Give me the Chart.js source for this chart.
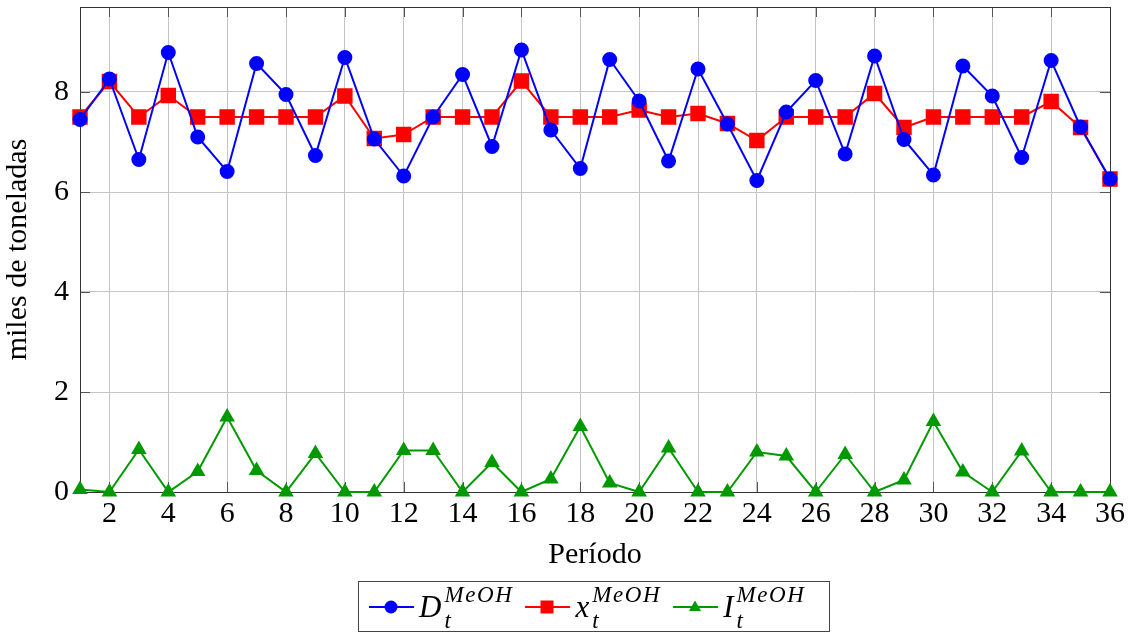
<!DOCTYPE html>
<html>
<head>
<meta charset="utf-8">
<script src="https://cdn.jsdelivr.net/npm/chart.js@4"></script>
<style>
  body { margin: 0; background: #fff; }
  #wrap { position: relative; width: 1134px; height: 633px; }
  #legend {
    position: absolute; left: 358px; top: 581px; width: 460px; height: 49px;
    border: 1px solid #444; display: flex; align-items: center; justify-content: flex-start;
    padding-left: 10px; box-sizing: content-box;
    font-family: "Liberation Serif", serif; font-style: italic; font-size: 31px; color: #000;
  }
  .item { display: flex; align-items: center; margin-right: 12px; }
  .item svg { margin-right: 5px; }
  .sym { display: inline-block; }
  .ss { display: inline-flex; flex-direction: column; font-size: 23px; line-height: 17px; margin-left: 3px; letter-spacing: 1.6px; }
  .ss .sup { position: relative; top: -4px; }
  .ss .sub { position: relative; top: 5px; }
</style>
</head>
<body>
<div id="wrap">
  <canvas id="chart" width="1134" height="633"></canvas>
  <div id="legend"></div>
</div>
<script>
// periods (x axis)
const periods = [1, 2, 3, 4, 5, 6, 7, 8, 9, 10, 11, 12, 13, 14, 15, 16, 17, 18,
  19, 20, 21, 22, 23, 24, 25, 26, 27, 28, 29, 30, 31, 32, 33, 34, 35, 36];

// D_t demand
const demand = [7.45, 8.26, 6.65, 8.79, 7.1, 6.41, 8.57, 7.95, 6.73, 8.69, 7.06, 6.32,
  7.5, 8.35, 6.91, 8.84, 7.24, 6.47, 8.65, 7.82, 6.62, 8.46, 7.36, 6.23,
  7.6, 8.23, 6.76, 8.72, 7.05, 6.34, 8.52, 7.92, 6.69, 8.63, 7.3, 6.26];

// x_t production
const production = [7.5, 8.21, 7.5, 7.93, 7.5, 7.5, 7.5, 7.5, 7.5, 7.92, 7.07, 7.15,
  7.5, 7.5, 7.5, 8.22, 7.5, 7.5, 7.5, 7.64, 7.5, 7.57, 7.37, 7.03,
  7.5, 7.5, 7.5, 7.97, 7.29, 7.5, 7.5, 7.5, 7.5, 7.81, 7.29, 6.26];

// I_t inventory
const inventory = [0.05, 0, 0.85, 0, 0.41, 1.5, 0.43, 0, 0.77, 0, 0, 0.83,
  0.83, 0, 0.59, 0, 0.26, 1.31, 0.18, 0, 0.88, 0, 0, 0.8,
  0.72, 0, 0.75, 0, 0.24, 1.41, 0.4, 0, 0.82, 0, 0, 0];

const xTicks = [2, 4, 6, 8, 10, 12, 14, 16, 18, 20, 22, 24, 26, 28, 30, 32, 34, 36];
const yTicks = [0, 2, 4, 6, 8];
const seriesSymbols = ['D', 'x', 'I'];
const seriesSup = 'MeOH';
const seriesSub = 't';

const FONT = '"Liberation Serif", serif';

function toPoints(vals) {
  return periods.map((p, i) => ({ x: p, y: vals[i] }));
}

// pgfplots style inward tick marks on all four sides
const innerTicks = {
  id: 'innerTicks',
  beforeDatasetsDraw(chart) {
    const { ctx, chartArea: a, scales } = chart;
    const len = 10;
    ctx.save();
    ctx.strokeStyle = '#555';
    ctx.lineWidth = 1;
    ctx.beginPath();
    xTicks.forEach(v => {
      const px = Math.round(scales.x.getPixelForValue(v)) + 0.5;
      ctx.moveTo(px, a.bottom); ctx.lineTo(px, a.bottom - len);
      ctx.moveTo(px, a.top); ctx.lineTo(px, a.top + len);
    });
    yTicks.forEach(v => {
      const py = Math.round(scales.y.getPixelForValue(v)) + 0.5;
      ctx.moveTo(a.left, py); ctx.lineTo(a.left + len, py);
      ctx.moveTo(a.right, py); ctx.lineTo(a.right - len, py);
    });
    ctx.stroke();
    ctx.strokeStyle = '#333';
    ctx.strokeRect(Math.round(a.left) + 0.5, Math.round(a.top) + 0.5,
      Math.round(a.right - a.left), Math.round(a.bottom - a.top));
    ctx.restore();
  }
};

const ctx = document.getElementById('chart').getContext('2d');
const chart = new Chart(ctx, {
  type: 'line',
  data: {
    datasets: [
      {
        label: 'D', data: toPoints(demand), borderColor: '#0000ff', backgroundColor: '#0000ff',
        borderWidth: 2, pointStyle: 'circle', pointRadius: 6.5, clip: false
      },
      {
        label: 'x', data: toPoints(production), borderColor: '#ff0000', backgroundColor: '#ff0000',
        borderWidth: 2, pointStyle: 'rect', pointRadius: 9.5, clip: false
      },
      {
        label: 'I', data: toPoints(inventory), borderColor: '#009900', backgroundColor: '#009900',
        borderWidth: 2, pointStyle: 'triangle', pointRadius: 7, clip: false
      }
    ]
  },
  options: {
    responsive: false,
    animation: false,
    events: [],
    layout: { autoPadding: false, padding: { top: 7, right: 24, left: 0, bottom: 0 } },
    plugins: { legend: { display: false }, tooltip: { enabled: false } },
    scales: {
      x: {
        type: 'linear', min: 1, max: 36,
        afterBuildTicks: s => { s.ticks = xTicks.map(v => ({ value: v })); },
        afterFit: s => { s.height = 141; s.paddingLeft = 0; s.paddingRight = 0; },
        grid: { color: '#c4c4c4', lineWidth: 1, drawTicks: false },
        border: { display: false },
        ticks: { color: '#000', font: { family: FONT, size: 30 }, padding: 4, maxRotation: 0 },
        title: { display: true, text: 'Período', color: '#000', font: { family: FONT, size: 30 },
          padding: { top: 0, bottom: 60 } }
      },
      y: {
        min: 0, max: 9.7,
        afterBuildTicks: s => { s.ticks = yTicks.map(v => ({ value: v })); },
        afterFit: s => { s.width = 80; s.paddingTop = 0; s.paddingBottom = 0; },
        grid: { color: '#c4c4c4', lineWidth: 1, drawTicks: false },
        border: { display: false },
        ticks: { color: '#000', font: { family: FONT, size: 30 }, padding: 11 },
        title: { display: true, text: 'miles de toneladas', color: '#000', font: { family: FONT, size: 30 },
          padding: { top: 0, bottom: 0 } }
      }
    }
  },
  plugins: [innerTicks]
});

// Legend with sub/superscripts, built from the datasets
function markerSvg(ds) {
  const c = ds.borderColor;
  let shape = '';
  if (ds.pointStyle === 'circle') shape = `<circle cx="22" cy="10" r="6.5" fill="${c}"/>`;
  else if (ds.pointStyle === 'rect') shape = `<rect x="15.5" y="3.5" width="13" height="13" fill="${c}"/>`;
  else shape = `<polygon points="22,3.5 28,14 16,14" fill="${c}"/>`;
  return `<svg width="45" height="20"><line x1="0" y1="10" x2="45" y2="10" stroke="${c}" stroke-width="2"/>${shape}</svg>`;
}
const legendEl = document.getElementById('legend');
chart.data.datasets.forEach((ds, i) => {
  const item = document.createElement('div');
  item.className = 'item';
  item.innerHTML = markerSvg(ds) +
    `<span class="sym">${seriesSymbols[i]}</span>` +
    `<span class="ss"><span class="sup">${seriesSup}</span><span class="sub">${seriesSub}</span></span>`;
  legendEl.appendChild(item);
});
</script>
</body>
</html>
